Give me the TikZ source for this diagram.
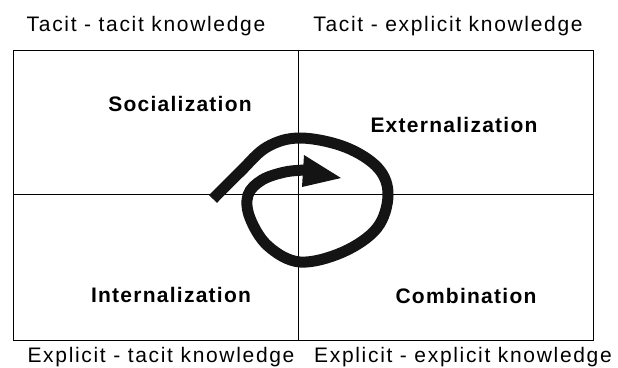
\documentclass[tikz,border=0pt]{standalone}
\usepackage{fontspec}
\setmainfont{Liberation Sans}
\usetikzlibrary{arrows.meta}

\begin{document}
\begin{tikzpicture}[x=1pt, y=-1pt, >=latex,
    lbl/.style={anchor=base, font=\fontsize{21}{23}\selectfont\addfontfeature{LetterSpace=8}},
    mode/.style={anchor=base, font=\fontsize{21}{23}\selectfont\bfseries\addfontfeature{LetterSpace=6}},
    spiral/.style={line width=11pt, color=black!92}]
        \useasboundingbox (0,0) rectangle (618,367);
        % quadrants
        \draw[line width=.8pt] (13,50) rectangle (593,340);
        \draw[line width=.8pt] (298,50) -- (298,340);
        \draw[line width=.8pt] (13,194) -- (593,194);
        % labels outside
        \node[lbl] (tt) at (146,31) {Tacit - tacit knowledge};
        \node[lbl] (te) at (448,31) {Tacit - explicit knowledge};
        \node[lbl] (et) at (161,362) {Explicit - tacit knowledge};
        \node[lbl] (ee) at (463,362) {Explicit - explicit knowledge};
        % modes
        \node[mode] (soc) at (180,111) {Socialization};
        \node[mode] (ext) at (454,132) {Externalization};
        \node[mode] (int) at (171,302) {Internalization};
        \node[mode] (com) at (466,303) {Combination};
        % spiral
        \draw[spiral] plot[smooth, tension=.6] coordinates {(213,199) (240,172) (267,147) (300,138) (345,147) (378,168) (388,195) (377,228) (343,252) (300,262) (268,246) (250,218) (248,195) (262,180) (285,172) (306,170)};
        \fill[black!92] (304,155) -- (341,178) -- (302,187) -- cycle;
    \end{tikzpicture}
\end{document}
